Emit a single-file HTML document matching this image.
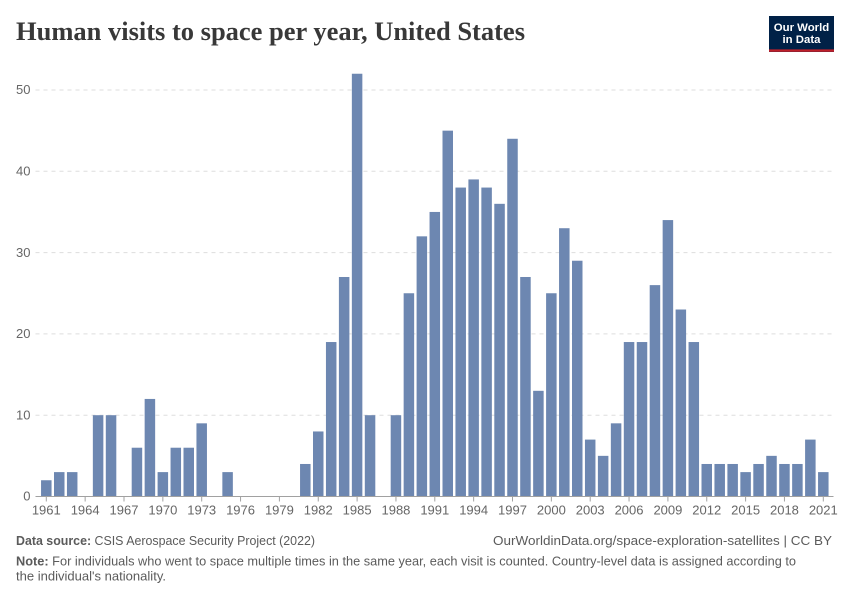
<!DOCTYPE html>
<html lang="en">
<head>
<meta charset="utf-8">
<title>Human visits to space per year, United States</title>
<style>
html,body{margin:0;padding:0;background:#fff;width:850px;height:600px;overflow:hidden}
svg{display:block}
text{font-family:"Liberation Sans",sans-serif}
</style>
</head>
<body>
<svg id="chart" width="850" height="600" viewBox="0 0 850 600" xmlns="http://www.w3.org/2000/svg">
  <rect x="0" y="0" width="850" height="600" fill="#ffffff"/>
  <text x="16" y="40" font-size="26" font-weight="700" fill="#383838" textLength="509" lengthAdjust="spacingAndGlyphs" style="font-family:'Liberation Serif',serif">Human visits to space per year, United States</text>
  <g>
    <rect x="769" y="16" width="65" height="36" fill="#002147"/>
    <rect x="769" y="49.4" width="65" height="2.4" fill="#c0202a"/>
    <text x="801.5" y="31" font-size="11.4" font-weight="700" fill="#ffffff" text-anchor="middle">Our World</text>
    <text x="801.5" y="43" font-size="11.4" font-weight="700" fill="#ffffff" text-anchor="middle">in Data</text>
  </g>
  <g id="grid"></g>
  <g id="bars"></g>
  <g id="axes"></g>
  <g font-size="13" fill="#5b5b5b">
    <text x="16" y="545" textLength="299" lengthAdjust="spacingAndGlyphs"><tspan font-weight="700">Data source:</tspan> CSIS Aerospace Security Project (2022)</text>
    <text x="832" y="545" text-anchor="end" textLength="339" lengthAdjust="spacingAndGlyphs">OurWorldinData.org/space-exploration-satellites | CC BY</text>
    <text x="16" y="565.5" textLength="780" lengthAdjust="spacingAndGlyphs"><tspan font-weight="700">Note:</tspan> For individuals who went to space multiple times in the same year, each visit is counted. Country-level data is assigned according to</text>
    <text x="16" y="580.5" textLength="150" lengthAdjust="spacingAndGlyphs">the individual's nationality.</text>
  </g>
</svg>
<script>
const years = [1961,1962,1963,1964,1965,1966,1967,1968,1969,1970,1971,1972,1973,1974,1975,1976,1977,1978,1979,1980,1981,1982,1983,1984,1985,1986,1987,1988,1989,1990,1991,1992,1993,1994,1995,1996,1997,1998,1999,2000,2001,2002,2003,2004,2005,2006,2007,2008,2009,2010,2011,2012,2013,2014,2015,2016,2017,2018,2019,2020,2021];
const visits = [2,3,3,0,10,10,0,6,12,3,6,6,9,0,3,0,0,0,0,0,4,8,19,27,52,10,0,10,25,32,35,45,38,39,38,36,44,27,13,25,33,29,7,5,9,19,19,26,34,23,19,4,4,4,3,4,5,4,4,7,3];
const yTicks = [0,10,20,30,40,50];
const xTicks = [1961,1964,1967,1970,1973,1976,1979,1982,1985,1988,1991,1994,1997,2000,2003,2006,2009,2012,2015,2018,2021];

const NS = 'http://www.w3.org/2000/svg';
const plotLeft = 35.5, plotRight = 832;
const baseY = 496.5, unitY = 8.13;
const firstX = 46.3, stepX = 12.95, barW = 10.5;
const xScale = function (year) { return firstX + (year - years[0]) * stepX; };
const yScale = function (value) { return baseY - value * unitY; };

function make(tag, attrs, parent, content) {
  const el = document.createElementNS(NS, tag);
  Object.keys(attrs).forEach(function (k) { el.setAttribute(k, attrs[k]); });
  if (content !== undefined) el.textContent = content;
  parent.appendChild(el);
  return el;
}

const gridG = document.getElementById('grid');
const barsG = document.getElementById('bars');
const axesG = document.getElementById('axes');

yTicks.forEach(function (t) {
  const y = yScale(t);
  if (t > 0) {
    const line = make('line', {x1: plotLeft, x2: plotRight, y1: y, y2: y, stroke: '#dddddd', 'stroke-dasharray': '4 4', 'stroke-width': 1}, gridG);
    
    
  }
  const label = make('text', {x: 30.5, y: y + 4.2, 'font-size': 13, fill: '#666666', 'text-anchor': 'end'}, axesG, String(t));
  
  
});

years.forEach(function (year, i) {
  const y = yScale(visits[i]);
  const bar = make('rect', {x: xScale(year) - barW / 2, y: y, width: barW, height: baseY - y, fill: '#6d87b1'}, barsG);
  
  
});

const axisLine = make('line', {x1: plotLeft, x2: 833.5, y1: baseY, y2: baseY, stroke: '#a1a1a1', 'stroke-width': 1}, axesG);



xTicks.forEach(function (year) {
  const x = xScale(year);
  const tick = make('line', {x1: x, x2: x, y1: baseY, y2: baseY + 5, stroke: '#a1a1a1', 'stroke-width': 1}, axesG);
  
  
  const label = make('text', {x: x, y: 514.5, 'font-size': 13, fill: '#666666', 'text-anchor': 'middle'}, axesG, String(year));
  
  
});
</script>
</body>
</html>
